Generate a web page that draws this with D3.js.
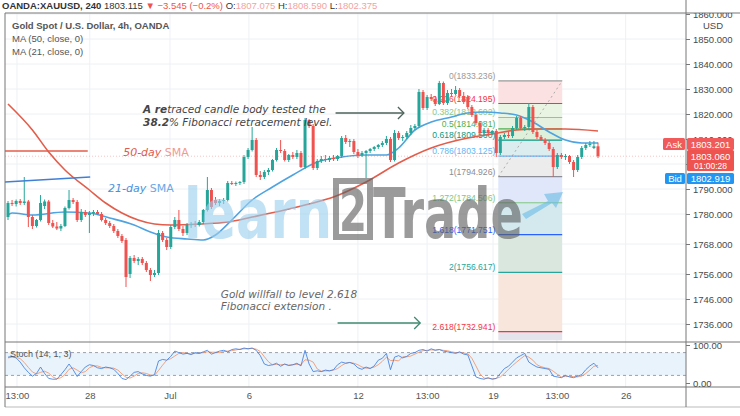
<!DOCTYPE html>
<html><head><meta charset="utf-8">
<script src="https://cdn.jsdelivr.net/npm/d3@7"></script>
<style>body{margin:0;background:#fff;} svg{display:block;font-family:"Liberation Sans",Arial,sans-serif;}</style>
</head><body>
<svg id="c" width="740" height="416"></svg>
<script>
// ---------------- DATA ----------------
// OHLC candles, 4h, XAUUSD
const candles = [
[1778.8,1785.2,1777.6,1784.4],[1784.4,1785.6,1783.2,1784.0],[1784.0,1785.8,1783.0,1785.2],[1785.2,1786.0,1783.6,1784.4],
[1784.4,1794.8,1783.6,1785.0],[1785.0,1785.6,1774.8,1778.8],[1778.8,1779.6,1774.0,1775.2],[1775.2,1778.0,1774.6,1777.6],
[1777.6,1787.6,1777.0,1784.4],[1783.2,1785.8,1782.0,1785.0],[1785.0,1785.6,1775.6,1776.4],[1776.4,1777.6,1774.4,1775.0],
[1775.0,1776.8,1773.6,1774.2],[1774.2,1776.0,1773.2,1775.2],[1775.2,1783.0,1774.8,1782.4],[1782.4,1789.6,1781.8,1785.6],
[1785.6,1786.4,1784.0,1784.8],[1784.8,1785.6,1776.8,1777.6],[1777.6,1782.0,1776.8,1780.8],[1780.8,1781.6,1778.8,1779.6],
[1779.6,1781.2,1772.4,1780.4],[1780.4,1781.6,1779.2,1780.8],[1780.8,1781.6,1779.6,1780.0],[1780.0,1780.8,1777.0,1777.6],
[1777.6,1778.4,1775.6,1776.4],[1776.4,1777.2,1774.4,1775.2],[1775.2,1776.0,1772.4,1773.2],[1773.2,1774.0,1770.4,1771.2],
[1771.2,1772.0,1768.4,1769.2],[1769.6,1770.4,1750.8,1754.8],[1756.0,1763.2,1754.4,1762.4],[1762.4,1763.6,1760.4,1761.2],
[1761.2,1762.8,1759.6,1762.0],[1762.0,1762.8,1759.6,1760.4],[1760.4,1761.2,1756.8,1757.6],[1757.6,1758.4,1753.2,1755.6],
[1755.6,1757.6,1754.8,1756.4],[1756.4,1773.6,1755.6,1772.4],[1772.4,1773.2,1768.8,1769.6],[1769.6,1770.4,1765.6,1766.8],
[1766.8,1775.6,1766.0,1774.8],[1774.8,1778.8,1774.0,1777.6],[1777.6,1781.6,1773.2,1774.0],[1774.0,1775.2,1771.2,1772.4],
[1772.4,1776.4,1771.6,1775.6],[1775.6,1776.8,1774.4,1776.0],[1776.0,1777.2,1774.8,1775.6],[1775.6,1777.6,1775.0,1776.8],
[1776.8,1782.0,1776.0,1781.6],[1781.6,1794.8,1781.0,1789.6],[1789.6,1790.4,1782.0,1782.8],[1785.6,1786.8,1783.6,1784.4],
[1784.4,1786.0,1783.2,1785.2],[1785.2,1786.4,1784.0,1785.6],[1785.6,1793.2,1785.0,1792.4],[1792.4,1793.2,1791.6,1792.0],
[1792.0,1793.0,1791.2,1792.4],[1792.4,1793.2,1791.6,1792.8],[1792.8,1803.6,1792.0,1802.8],[1802.8,1806.4,1802.0,1805.6],
[1805.6,1814.8,1805.0,1809.6],[1809.6,1810.4,1794.8,1795.6],[1795.6,1797.2,1793.6,1794.8],[1794.8,1797.6,1794.0,1796.8],
[1796.8,1798.4,1795.6,1797.6],[1797.6,1802.0,1797.0,1801.6],[1801.6,1806.4,1801.0,1805.6],[1805.6,1809.6,1804.4,1805.2],
[1805.2,1806.0,1801.0,1801.6],[1801.6,1804.0,1800.8,1803.6],[1803.6,1804.8,1802.0,1802.8],[1802.8,1805.6,1802.0,1804.4],
[1804.4,1805.2,1798.4,1798.8],[1798.8,1818.4,1798.0,1817.6],[1817.6,1818.0,1814.4,1815.2],[1815.2,1816.0,1797.6,1798.4],
[1798.4,1802.0,1797.6,1801.2],[1801.2,1803.2,1800.4,1802.0],[1802.0,1803.6,1800.8,1801.6],[1801.6,1803.2,1800.8,1802.4],
[1802.4,1803.6,1801.2,1802.0],[1802.0,1803.6,1801.2,1803.2],[1803.2,1811.2,1802.4,1810.4],[1810.4,1811.6,1808.0,1808.8],
[1808.8,1810.0,1806.8,1809.2],[1809.2,1810.0,1804.0,1804.8],[1804.8,1806.0,1802.4,1803.6],[1803.6,1805.2,1802.8,1804.4],
[1804.4,1805.6,1794.4,1805.2],[1805.2,1806.4,1804.4,1806.0],[1806.0,1807.2,1805.2,1806.8],[1806.8,1808.0,1806.0,1807.6],
[1807.6,1809.2,1806.8,1808.4],[1808.4,1811.2,1807.6,1810.0],[1810.0,1810.8,1800.8,1801.6],[1801.6,1813.6,1801.0,1812.4],
[1812.4,1813.2,1809.6,1810.4],[1810.4,1811.6,1809.2,1810.8],[1810.8,1813.2,1810.0,1812.4],[1812.4,1815.6,1811.6,1814.4],
[1814.4,1816.0,1813.6,1815.2],[1815.2,1830.0,1814.4,1828.8],[1828.8,1829.6,1821.6,1822.4],[1822.4,1827.6,1821.6,1826.8],
[1826.8,1828.0,1825.2,1826.0],[1826.0,1827.2,1823.2,1824.0],[1824.0,1833.236,1823.6,1832.4],[1832.4,1833.0,1823.6,1824.4],
[1824.4,1829.6,1823.6,1828.4],[1828.4,1830.0,1827.2,1828.0],[1828.0,1831.2,1827.6,1829.6],[1829.6,1830.4,1826.4,1827.2],
[1827.2,1828.8,1824.0,1824.8],[1826.8,1827.6,1822.0,1822.8],[1822.8,1823.6,1818.8,1819.6],[1819.6,1820.4,1815.6,1816.4],
[1816.4,1817.2,1811.6,1812.4],[1812.4,1814.4,1811.6,1813.6],[1813.6,1814.4,1811.2,1812.4],[1812.4,1813.6,1811.6,1813.2],
[1813.2,1814.0,1802.8,1804.4],[1804.4,1811.6,1803.6,1810.8],[1810.8,1812.4,1810.0,1811.6],[1811.6,1812.8,1810.4,1811.2],
[1811.2,1815.2,1810.4,1814.4],[1814.4,1819.2,1813.6,1818.4],[1818.4,1819.2,1813.6,1814.4],[1814.4,1815.6,1813.2,1814.8],
[1814.8,1824.4,1814.0,1822.8],[1822.8,1823.6,1812.0,1812.8],[1812.8,1813.6,1810.0,1810.8],[1810.8,1811.6,1809.2,1809.6],
[1809.6,1810.4,1807.6,1808.4],[1808.4,1809.2,1805.2,1806.0],[1806.0,1806.8,1794.8,1798.8],[1798.8,1804.4,1798.0,1803.6],
[1803.6,1804.4,1802.0,1802.8],[1802.8,1804.0,1801.6,1803.2],[1803.2,1803.6,1800.0,1800.8],[1800.8,1801.6,1794.8,1797.6],
[1797.6,1803.6,1796.8,1802.8],[1802.8,1807.2,1802.0,1806.4],[1806.4,1808.4,1805.6,1807.6],[1807.6,1809.2,1806.8,1808.0],
[1806.4,1809.2,1806.0,1807.075],[1807.075,1808.59,1802.375,1803.115]
];
// Moving averages: [candle index, price]
const ma50 = [[0,1824.0],[6,1813.6],[10,1804.8],[14,1797.6],[20,1789.6],[24,1784.4],[28,1780.4],[32,1777.6],[36,1776.0],[40,1775.6],[47,1776.0],[54,1776.8],[60,1778.8],[68,1781.6],[74,1784.0],[80,1786.8],[88,1792.8],[96,1800.4],[104,1806.4],[113,1810.4],[119,1812.0],[125,1813.6],[131,1814.0],[137,1814.0],[145,1813.2]];
const ma21 = [[0,1779.6],[1,1780.4],[6,1779.6],[14,1780.8],[20,1780.4],[25,1778.4],[31,1775.6],[35,1772.8],[39,1770.8],[44,1770.0],[48,1769.6],[51,1771.6],[55,1777.6],[60,1785.6],[65,1790.8],[70,1795.6],[76,1800.8],[82,1802.8],[88,1803.6],[93,1803.6],[96,1806.4],[100,1813.6],[104,1816.8],[109,1818.8],[113,1820.4],[117,1820.8],[121,1820.4],[125,1819.6],[129,1816.8],[133,1812.8],[137,1809.6],[141,1808.4],[145,1808.4]];
// Stochastic (14,1,3)
const stochK = [68,70,66,55,40,28,18,25,42,25,12,10,10,22,35,50,35,17,30,42,48,46,40,38,42,40,36,25,12,9,18,28,30,24,20,18,22,58,62,60,70,84,80,76,78,75,80,78,82,86,76,80,84,86,82,88,90,88,92,90,92,86,72,50,46,48,52,44,50,46,48,52,45,86,50,30,32,30,34,32,35,48,55,52,54,50,40,36,42,38,45,60,65,78,35,68,72,66,70,78,80,86,88,84,90,86,88,84,82,80,78,82,76,74,45,16,12,10,14,10,12,25,38,44,55,66,72,78,55,48,42,40,38,36,18,16,14,20,16,14,18,22,35,45,52,40];
const stochD = [66,68,68,64,54,41,29,24,28,31,26,16,11,14,22,36,40,34,27,30,40,45,45,41,40,40,39,34,24,15,13,18,25,27,25,21,20,33,47,60,64,71,78,80,78,76,78,78,80,82,81,81,80,83,84,85,87,89,90,90,91,89,83,69,56,48,49,48,49,47,48,49,48,61,60,55,37,31,32,32,34,38,46,52,54,52,48,42,39,39,42,48,57,68,59,60,58,69,69,71,76,81,85,86,87,87,88,86,85,82,80,80,79,77,65,45,24,13,12,11,12,16,25,36,46,55,64,72,68,60,48,43,40,38,31,23,16,17,17,17,16,18,25,34,44,46];
// Fibonacci
const fibLevels = [0,0.236,0.382,0.5,0.618,0.786,1,1.272,1.618,2,2.618];
const fibPrices = [1833.236,1824.195,1818.602,1814.081,1809.560,1803.125,1794.926,1784.506,1771.751,1756.617,1732.941];
const fibLineColors = ["#9a9a9a","#f23645","#8bc98e","#4caf50","#089981","#64b5f6","#8a8d96","#81c784","#2962ff","#26a69a","#f23645"];
const fibFillColors = ["#fbe1e1","#e9f4e2","#e6f2df","#dff0da","#dcedef","#ececec","#e0e7fb","#d3e9ee","#d9e7de","#f8e6dc","#e4e4ec"];
const fibSpan = [120.5, 136.2];
// Axes
const priceTicks = [1860,1850,1840,1830,1820,1810,1800,1790,1780,1768,1756,1746,1736];
const xTickIdx = [2.2,20.1,39.8,59.2,86,103,119.2,134.9,151.8];
const xTickLabels = ["13:00","28","Jul","6","12","13:00","19","13:00","26"];
const lastClose = 1803.115;

// ---------------- CHART ----------------
const svg = d3.select("#c");
const pL=5, pR=686, pT=13, pB=342, sB=387, aB=407;
const x = d3.scaleLinear().domain([0,145]).range([8,598]);
const y = d3.scaleLinear().domain([1736,1860]).range([324,14]);
const ys = d3.scaleLinear().domain([0,100]).range([383,345]);
const GREEN="#26a69a", RED="#ef5350";

svg.append("rect").attr("width",740).attr("height",416).attr("fill","#fff");
const defs = svg.append("defs");
defs.append("clipPath").attr("id","main").append("rect").attr("x",pL).attr("y",pT).attr("width",pR-pL).attr("height",pB-pT);
defs.append("clipPath").attr("id","st").append("rect").attr("x",pL).attr("y",pB).attr("width",pR-pL).attr("height",sB-pB);
defs.append("clipPath").attr("id","ax").append("rect").attr("x",0).attr("y",pT).attr("width",60).attr("height",pB-pT);

// grid
const grid = svg.append("g");
grid.selectAll("line.h").data(priceTicks).join("line")
  .attr("x1",pL).attr("x2",pR).attr("y1",d=>y(d)).attr("y2",d=>y(d)).attr("stroke","#eef0f3");
grid.selectAll("line.v").data(xTickIdx).join("line")
  .attr("x1",d=>x(d)).attr("x2",d=>x(d)).attr("y1",pT).attr("y2",sB).attr("stroke","#eef0f3");

const main = svg.append("g").attr("clip-path","url(#main)");

// Fibonacci fills
const fx0 = x(fibSpan[0]), fx1 = x(fibSpan[1]);
const fillBands = fibPrices.map((p,i)=>({top:p, bot: i<fibPrices.length-1? fibPrices[i+1] : 1729.5, c:fibFillColors[i]}));
main.selectAll("rect.fib").data(fillBands).join("rect")
  .attr("x",fx0).attr("width",fx1-fx0).attr("y",d=>y(d.top)).attr("height",d=>y(d.bot)-y(d.top))
  .attr("fill",d=>d.c);
main.selectAll("line.fib").data(fibPrices).join("line")
  .attr("x1",fx0).attr("x2",fx1).attr("y1",d=>y(d)).attr("y2",d=>y(d))
  .attr("stroke",(d,i)=>fibLineColors[i]).attr("stroke-width",1.2);
main.append("line").attr("x1",fx0).attr("x2",fx1).attr("y1",y(fibPrices[6])).attr("y2",y(fibPrices[0]))
  .attr("stroke","#9a9a9a").attr("stroke-dasharray","2,3").attr("stroke-width",0.8);
main.selectAll("text.fib").data(fibPrices).join("text")
  .attr("x",fx0-3).attr("y",d=>y(d)-2).attr("text-anchor","end").attr("font-size",8.6)
  .attr("fill",(d,i)=>fibLineColors[i]).text((d,i)=>fibLevels[i]+"("+d.toFixed(3)+")");

// MA lines
const line = d3.line().x(d=>x(d[0])).y(d=>y(d[1])).curve(d3.curveMonotoneX);
main.append("path").attr("d",line(ma50)).attr("fill","none").attr("stroke","#e35d4b").attr("stroke-width",1.6);
main.append("path").attr("d",line(ma21)).attr("fill","none").attr("stroke","#4ea3e0").attr("stroke-width",1.6);

// price line
main.append("line").attr("x1",pL).attr("x2",pR).attr("y1",y(lastClose)).attr("y2",y(lastClose))
  .attr("stroke",RED).attr("stroke-opacity",0.35).attr("stroke-dasharray","1,2");

// candles
main.selectAll("line.wick").data(candles).join("line")
  .attr("x1",(d,i)=>x(i)).attr("x2",(d,i)=>x(i)).attr("y1",d=>y(d[1])).attr("y2",d=>y(d[2]))
  .attr("stroke",d=>d[3]>=d[0]?GREEN:RED).attr("stroke-width",1);
main.selectAll("rect.body").data(candles).join("rect")
  .attr("x",(d,i)=>x(i)-1.5).attr("width",3)
  .attr("y",d=>y(Math.max(d[0],d[3]))).attr("height",d=>Math.max(1,Math.abs(y(d[0])-y(d[3]))))
  .attr("fill",d=>d[3]>=d[0]?GREEN:RED);

// annotations
const ann = svg.append("g").attr("font-family","'DejaVu Sans',Verdana,sans-serif").attr("font-style","italic");
ann.append("line").attr("x1",pL).attr("x2",x(19.6)).attr("y1",y(1805.2)).attr("y2",y(1805.2)).attr("stroke","#e35d4b").attr("stroke-width",1.4);
const t50 = ann.append("text").attr("x",x(28.3)).attr("y",y(1803.4)).attr("font-size",11);
t50.append("tspan").attr("fill","#e05a50").text("50-day ");
t50.append("tspan").attr("fill","#f19a92").attr("font-style","normal").text("SMA");
ann.append("line").attr("x1",pL).attr("x2",x(20.2)).attr("y1",y(1792.8)).attr("y2",y(1794.8)).attr("stroke","#3f7fd8").attr("stroke-width",1.6);
const t21 = ann.append("text").attr("x",x(24.6)).attr("y",y(1789.0)).attr("font-size",11).attr("fill","#4a90dd");
t21.append("tspan").text("21-day ");
t21.append("tspan").attr("font-style","normal").attr("fill","#6aa8e6").text("SMA");
const a1 = ann.append("text").attr("x",x(33.2)).attr("y",y(1820.6)).attr("font-size",10.5).attr("fill","#454545");
a1.append("tspan").attr("font-weight","bold").text("A re");
a1.append("tspan").text("traced candle body tested the");
const a2 = ann.append("text").attr("x",x(33.2)).attr("y",y(1815.4)).attr("font-size",10.5).attr("fill","#454545");
a2.append("tspan").attr("font-weight","bold").text("38.2");
a2.append("tspan").text("% Fibonacci retracement level.");
function arrow(i0,i1,p,col){
  const yy=y(p), xe=x(i1);
  ann.append("line").attr("x1",x(i0)).attr("x2",xe).attr("y1",yy).attr("y2",yy).attr("stroke",col).attr("stroke-width",1.3);
  ann.append("path").attr("d",`M${xe-6},${yy-6}L${xe},${yy}L${xe-6},${yy+6}`).attr("fill","none").attr("stroke",col).attr("stroke-width",1.3);
}
arrow(80.5,97.3,1820.4,"#4d635c");
ann.append("text").attr("x",x(52.3)).attr("y",y(1746.6)).attr("font-size",10.5).attr("fill","#666").text("Gold willfall to level 2.618");
ann.append("text").attr("x",x(52.3)).attr("y",y(1741.8)).attr("font-size",10.5).attr("fill","#666").text("Fibonacci extension .");
arrow(81,101.3,1736.4,"#3f8a70");

// watermark
const wm = svg.append("g").attr("opacity",0.62).attr("font-family","'DejaVu Sans',sans-serif").attr("font-weight","bold");
wm.append("text").attr("x",184).attr("y",238).attr("font-size",70).attr("textLength",148).attr("lengthAdjust","spacingAndGlyphs").attr("fill","#9ccfee").text("learn");
wm.append("rect").attr("x",336).attr("y",181).attr("width",34).attr("height",56).attr("fill","none").attr("stroke","#5f5f5f").attr("stroke-width",6);
wm.append("text").attr("x",339).attr("y",231).attr("font-size",58).attr("textLength",28).attr("lengthAdjust","spacingAndGlyphs").attr("fill","#5f5f5f").text("2");
wm.append("text").attr("x",373).attr("y",238).attr("font-size",70).attr("textLength",150).attr("lengthAdjust","spacingAndGlyphs").attr("fill","#5f5f5f").text("Trade");
wm.append("path").attr("d","M522,214 L548,201 L544,194 L563,192 L556,208 L552,203 L526,219 Z").attr("fill","#6cbce6");

// stochastic panel
svg.append("rect").attr("x",pL).attr("y",ys(80)).attr("width",pR-pL).attr("height",ys(20)-ys(80)).attr("fill","#e9f3fc");
[80,20].forEach(v=>svg.append("line").attr("x1",pL).attr("x2",pR).attr("y1",ys(v)).attr("y2",ys(v)).attr("stroke","#9aa0a8").attr("stroke-dasharray","3,3"));
const st = svg.append("g").attr("clip-path","url(#st)");
const sl = d3.line().x((d,i)=>x(i)).y(d=>ys(d));
st.append("path").attr("d",sl(stochD)).attr("fill","none").attr("stroke","#f0946a").attr("stroke-width",1).attr("opacity",0.85);
st.append("path").attr("d",sl(stochK)).attr("fill","none").attr("stroke","#3f7fe0").attr("stroke-width",1).attr("opacity",0.85);
svg.append("text").attr("x",10).attr("y",357).attr("font-size",9).attr("fill","#555").text("Stoch (14, 1, 3)");

// frame lines
const fr = svg.append("g").attr("stroke","#777").attr("stroke-width",1);
fr.append("line").attr("x1",pL).attr("x2",740).attr("y1",pT).attr("y2",pT);
fr.append("line").attr("x1",pL).attr("x2",740).attr("y1",pB).attr("y2",pB);
fr.append("line").attr("x1",pL).attr("x2",740).attr("y1",sB).attr("y2",sB);
fr.append("line").attr("x1",pL).attr("x2",740).attr("y1",aB).attr("y2",aB).attr("stroke","#bbb");
fr.append("line").attr("x1",pL).attr("x2",pL).attr("y1",pT).attr("y2",aB);
fr.append("line").attr("x1",pR).attr("x2",pR).attr("y1",0).attr("y2",aB);

// price axis
const ya = svg.append("g").attr("transform",`translate(${pR},0)`).attr("clip-path","url(#ax)")
  .call(d3.axisRight(y).tickValues(priceTicks).tickFormat(d=>d.toFixed(3)).tickSize(4).tickPadding(3));
ya.select(".domain").remove();
ya.selectAll("text").attr("font-size",9.5).attr("fill","#4a4a4a").attr("font-family","'Liberation Sans',Arial,sans-serif");
ya.selectAll("line").attr("stroke","#777");
svg.append("rect").attr("x",700).attr("y",19).attr("width",26).attr("height",12).attr("fill","#fff");
svg.append("text").attr("x",713).attr("y",28.5).attr("text-anchor","middle").attr("font-size",9.5).attr("fill","#4a4a4a").text("USD");

// stoch axis
const sa = svg.append("g").attr("transform",`translate(${pR},0)`)
  .call(d3.axisRight(ys).tickValues([100,0]).tickFormat(d=>d.toFixed(2)).tickSize(4).tickPadding(3));
sa.select(".domain").remove();
sa.selectAll("text").attr("font-size",9.5).attr("fill","#4a4a4a");
sa.selectAll("line").attr("stroke","#777");

// time axis
const xa = svg.append("g").attr("transform",`translate(0,${sB})`)
  .call(d3.axisBottom(x).tickValues(xTickIdx).tickFormat((d,i)=>xTickLabels[i]).tickSize(0).tickPadding(5));
xa.select(".domain").remove();
xa.selectAll("text").attr("font-size",9.5).attr("fill","#555");

// price labels
function box(x0,y0,w,h,fill,lines){
  svg.append("rect").attr("x",x0).attr("y",y0).attr("width",w).attr("height",h).attr("rx",1.5).attr("fill",fill);
  lines.forEach(l=>svg.append("text").attr("x",x0+w/2).attr("y",l[1]).attr("text-anchor","middle").attr("font-size",l[2]||9.5).attr("fill","#fff").text(l[0]));
}
box(663,138,22,12,"#f05a5a",[["Ask",147.5]]);
box(687,138,47,12,"#f05a5a",[["1803.201",147.5]]);
box(687,150,47,21,"#ef5350",[["1803.060",159.5],["01:00:28",169,8.5]]);
box(665,173,20,11,"#2196f3",[["Bid",182]]);
box(687,173,47,11,"#2196f3",[["1802.919",182]]);

// header
const hd = svg.append("text").attr("x",2).attr("y",8.5).attr("font-size",9.5).attr("fill","#333");
hd.append("tspan").attr("font-weight","bold").text("OANDA:XAUUSD, 240 ");
hd.append("tspan").text("1803.115 ");
hd.append("tspan").attr("fill","#ef5350").text("▼ −3.545 (−0.2%) ");
hd.append("tspan").text("O:");
hd.append("tspan").attr("fill","#f4a3a0").text("1807.075 ");
hd.append("tspan").text("H:");
hd.append("tspan").attr("fill","#f4a3a0").text("1808.590 ");
hd.append("tspan").text("L:");
hd.append("tspan").attr("fill","#f4a3a0").text("1802.375");
const lg = svg.append("g").attr("font-size",9.5).attr("fill","#555");
lg.append("text").attr("x",12).attr("y",29).attr("font-weight","bold").text("Gold Spot / U.S. Dollar, 4h, OANDA");
lg.append("text").attr("x",12).attr("y",42).text("MA (50, close, 0)");
lg.append("text").attr("x",12).attr("y",55).text("MA (21, close, 0)");
</script>
</body></html>
